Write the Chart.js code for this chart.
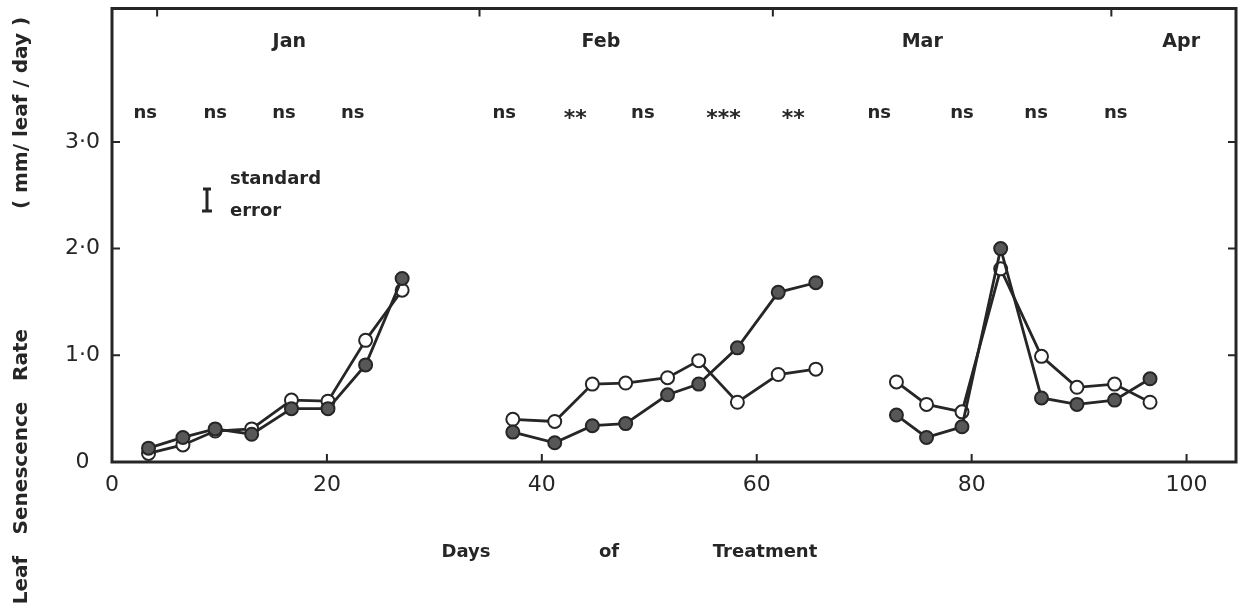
<!DOCTYPE html>
<html>
<head>
<meta charset="utf-8">
<title>Leaf senescence rate</title>
<script src="https://cdn.jsdelivr.net/npm/chart.js@4"></script>
<style>
  html, body { margin: 0; padding: 0; background: #fff; }
  #wrap { width: 1249px; height: 611px; }
</style>
</head>
<body>
<div id="wrap"><canvas id="senescenceChart" width="1249" height="611"></canvas></div>
<script>
// Sampling days and senescence rates (mm/leaf/day) for each month block
const janDays = [3.4, 6.6, 9.6, 13.0, 16.7, 20.1, 23.6, 27.0];
const janFilled = [0.13, 0.23, 0.31, 0.26, 0.50, 0.50, 0.91, 1.72];
const janOpen = [0.08, 0.16, 0.29, 0.31, 0.58, 0.57, 1.14, 1.61];

const febDays = [37.3, 41.2, 44.7, 47.8, 51.7, 54.6, 58.2, 62.0, 65.5];
const febFilled = [0.28, 0.18, 0.34, 0.36, 0.63, 0.73, 1.07, 1.59, 1.68];
const febOpen = [0.40, 0.38, 0.73, 0.74, 0.79, 0.95, 0.56, 0.82, 0.87];

const marDays = [73.0, 75.8, 79.1, 82.7, 86.5, 89.8, 93.3, 96.6];
const marFilled = [0.44, 0.23, 0.33, 2.00, 0.60, 0.54, 0.58, 0.78];
const marOpen = [0.75, 0.54, 0.47, 1.81, 0.99, 0.70, 0.73, 0.56];

// Month names along the top, and where each month begins (days of treatment)
const monthNames = ['Jan', 'Feb', 'Mar', 'Apr'];
const monthLabelDays = [16.5, 45.5, 75.4, 99.5];
const monthStartDays = [4.2, 34.2, 61.5, 93.0];

// Significance of the difference between treatments at each interval
const sigLabels = ['ns', 'ns', 'ns', 'ns', 'ns', '**', 'ns', '***', '**', 'ns', 'ns', 'ns', 'ns'];
const sigDays = [3.1, 9.6, 16.0, 22.4, 36.5, 43.1, 49.4, 56.9, 63.4, 71.4, 79.1, 86.0, 93.4];

// Axis ticks
const xTickValues = [0, 20, 40, 60, 80, 100];
const yTickValues = [0, 1, 2, 3];
const yTickLabels = ['0', '1·0', '2·0', '3·0'];

const INK = '#262626';
const FONT = '"DejaVu Sans", sans-serif';

function toPoints(days, values) {
    return days.map((d, i) => ({ x: d, y: values[i] }));
}

function series(days, values, filled) {
    return {
        data: toPoints(days, values),
        borderColor: INK,
        borderWidth: 2.8,
        pointRadius: 6.5,
        pointBorderWidth: 2,
        pointBorderColor: INK,
        pointBackgroundColor: filled ? '#575757' : '#ffffff',
        tension: 0,
        fill: false
    };
}

const datasets = [
    series(janDays, janFilled, true),
    series(febDays, febFilled, true),
    series(marDays, marFilled, true),
    series(janDays, janOpen, false),
    series(febDays, febOpen, false),
    series(marDays, marOpen, false)
];

// Frame, inward tick marks and all the annotation text
const decorPlugin = {
    id: 'decor',
    afterDraw(chart) {
        const { ctx, chartArea: a, scales: { x, y } } = chart;
        ctx.save();
        ctx.strokeStyle = INK;
        ctx.fillStyle = INK;

        // box round the plot
        ctx.lineWidth = 3;
        ctx.strokeRect(a.left, a.top, a.right - a.left, a.bottom - a.top);

        // inward ticks
        ctx.lineWidth = 2;
        ctx.beginPath();
        yTickValues.slice(1).forEach(v => {
            const py = y.getPixelForValue(v);
            ctx.moveTo(a.left, py); ctx.lineTo(a.left + 8, py);
            ctx.moveTo(a.right, py); ctx.lineTo(a.right - 8, py);
        });
        xTickValues.slice(1).forEach(v => {
            const px = x.getPixelForValue(v);
            ctx.moveTo(px, a.bottom); ctx.lineTo(px, a.bottom - 8);
        });
        monthStartDays.forEach(d => {
            const px = x.getPixelForValue(d);
            ctx.moveTo(px, a.top); ctx.lineTo(px, a.top + 8);
        });
        ctx.stroke();

        ctx.textAlign = 'center';
        ctx.textBaseline = 'middle';

        // month names
        ctx.font = 'bold 19px ' + FONT;
        monthNames.forEach((m, i) => {
            ctx.fillText(m, x.getPixelForValue(monthLabelDays[i]), 42);
        });

        // significance marks
        sigLabels.forEach((s, i) => {
            const px = x.getPixelForValue(sigDays[i]);
            if (s === 'ns') {
                ctx.font = 'bold 18px ' + FONT;
                ctx.fillText(s, px, 113);
            } else {
                ctx.font = 'bold 22px ' + FONT;
                ctx.fillText(s, px, 119);
            }
        });

        // standard error key
        const bx = 207, bTop = 189, bBot = 211;
        ctx.lineWidth = 3;
        ctx.beginPath();
        ctx.moveTo(bx, bTop); ctx.lineTo(bx, bBot);
        ctx.moveTo(bx - 4, bTop); ctx.lineTo(bx + 4, bTop);
        ctx.moveTo(bx - 5, bBot); ctx.lineTo(bx + 5, bBot);
        ctx.stroke();
        ctx.textAlign = 'left';
        ctx.font = 'bold 18px ' + FONT;
        ctx.fillText('standard', 230, 179);
        ctx.fillText('error', 230, 211);

        // x axis title, words spread out
        ctx.textAlign = 'center';
        ctx.font = 'bold 18px ' + FONT;
        ctx.fillText('Days', 466, 552);
        ctx.fillText('of', 609, 552);
        ctx.fillText('Treatment', 765, 552);

        // y axis title, rotated, words spread out
        ctx.translate(22, 0);
        ctx.rotate(-Math.PI / 2);
        ctx.font = 'bold 20px ' + FONT;
        ctx.fillText('Leaf', -580, 0);
        ctx.fillText('Senescence', -468, 0);
        ctx.fillText('Rate', -355, 0);
        ctx.fillText('( mm/ leaf / day )', -113, 0);
        ctx.restore();
    }
};

const ctx = document.getElementById('senescenceChart').getContext('2d');

const config = {
    type: 'line',
    data: { datasets: datasets },
    options: {
        responsive: false,
        animation: false,
        layout: { padding: { top: 7, right: 13, left: 0, bottom: 0 } },
        plugins: {
            legend: { display: false },
            tooltip: { enabled: false }
        },
        scales: {
            x: {
                type: 'linear',
                min: 0,
                max: 104.6,
                grid: { display: false, drawTicks: false },
                border: { display: false },
                afterBuildTicks: scale => {
                    scale.ticks = xTickValues.map(v => ({ value: v }));
                },
                afterFit: scale => {
                    scale.height = 149;
                    scale.paddingLeft = 0;
                    scale.paddingRight = 0;
                },
                ticks: {
                    color: INK,
                    padding: 10,
                    maxRotation: 0,
                    font: { family: FONT, size: 22 },
                    callback: v => String(v)
                }
            },
            y: {
                type: 'linear',
                min: 0,
                max: 4.25,
                grid: { display: false, drawTicks: false },
                border: { display: false },
                afterBuildTicks: scale => {
                    scale.ticks = yTickValues.map(v => ({ value: v }));
                },
                afterFit: scale => {
                    scale.width = 112;
                    scale.paddingTop = 0;
                    scale.paddingBottom = 0;
                },
                ticks: {
                    color: INK,
                    padding: 12,
                    crossAlign: 'center',
                    font: { family: FONT, size: 22 },
                    callback: v => yTickLabels[yTickValues.indexOf(v)]
                }
            }
        }
    },
    plugins: [decorPlugin]
};

const senescenceChart = new Chart(ctx, config);
</script>
</body>
</html>
